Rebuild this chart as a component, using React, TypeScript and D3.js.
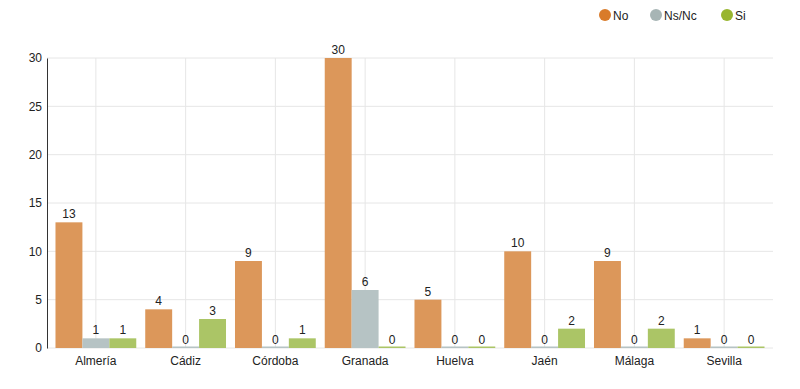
import React, { useEffect, useRef } from "react";
import * as d3 from "d3";

const provinces = ["Almería", "Cádiz", "Córdoba", "Granada", "Huelva", "Jaén", "Málaga", "Sevilla"];
const seriesNames = ["No", "Ns/Nc", "Si"];
const noValues = [13, 4, 9, 30, 5, 10, 9, 1];
const nsncValues = [1, 0, 0, 6, 0, 0, 0, 0];
const siValues = [1, 3, 1, 0, 0, 2, 2, 0];
const yTicks = [0, 5, 10, 15, 20, 25, 30];

const legendColors = ["#d97b2a", "#a7b5b5", "#98b52f"];
const barColors = ["#dc975a", "#b6c3c4", "#abc566"];

export default function App() {
  const ref = useRef<SVGSVGElement>(null);

  useEffect(() => {
    const width = 800, height = 389;
    const margin = { top: 58, right: 27, bottom: 41, left: 47 };
    const innerW = width - margin.left - margin.right;
    const innerH = height - margin.top - margin.bottom;
    const svg = d3.select(ref.current);
    svg.selectAll("*").remove();
    svg.style("font-family", "'Liberation Sans', Arial, sans-serif");

    const values = [noValues, nsncValues, siValues];
    const data = provinces.map((p, i) => ({ p, vals: values.map(v => v[i]) }));

    const x = d3.scaleBand().domain(provinces).range([4, innerW - 4]).paddingInner(0.1).paddingOuter(0.05);
    const x1 = d3.scaleBand().domain(seriesNames).range([0, x.bandwidth()]);
    const y = d3.scaleLinear().domain([0, 30]).range([innerH, 0]);

    const chart = svg.append("g").attr("transform", `translate(${margin.left},${margin.top})`);

    // grid
    chart.selectAll(".hgrid").data(yTicks).join("line").attr("class", "hgrid")
      .attr("x1", 0).attr("x2", innerW).attr("y1", d => y(d)).attr("y2", d => y(d))
      .attr("stroke", "#e6e6e6");
    chart.selectAll(".vgrid").data(provinces).join("line").attr("class", "vgrid")
      .attr("x1", d => x(d)! + x.bandwidth() / 2).attr("x2", d => x(d)! + x.bandwidth() / 2)
      .attr("y1", 0).attr("y2", innerH).attr("stroke", "#e6e6e6");

    // y axis
    const yAxis = chart.append("g").call(d3.axisLeft(y).tickValues(yTicks).tickSize(0).tickPadding(5));
    yAxis.select(".domain").attr("stroke", "#333");
    yAxis.selectAll("text").attr("font-size", 12).attr("fill", "#222").attr("font-family", "'Liberation Sans', Arial, sans-serif");

    // x axis
    const xAxis = chart.append("g").attr("transform", `translate(0,${innerH})`)
      .call(d3.axisBottom(x).tickSize(0).tickPadding(8));
    xAxis.select(".domain").remove();
    xAxis.selectAll("text").attr("font-size", 12).attr("fill", "#222").attr("font-family", "'Liberation Sans', Arial, sans-serif");

    const groups = chart.selectAll(".grp").data(data).join("g").attr("class", "grp")
      .attr("transform", d => `translate(${x(d.p)},0)`);

    groups.selectAll("rect").data(d => d.vals.map((v, k) => ({ v, k })))
      .join("rect")
      .attr("x", d => x1(seriesNames[d.k])!)
      .attr("width", x1.bandwidth())
      .attr("y", d => d.v === 0 ? innerH - 1.5 : y(d.v))
      .attr("height", d => d.v === 0 ? 1.5 : innerH - y(d.v))
      .attr("fill", d => barColors[d.k]);

    groups.selectAll("text").data(d => d.vals.map((v, k) => ({ v, k })))
      .join("text")
      .attr("x", d => x1(seriesNames[d.k])! + x1.bandwidth() / 2)
      .attr("y", d => y(d.v) - 4)
      .attr("text-anchor", "middle")
      .attr("font-size", 12)
      .attr("fill", "#222")
      .text(d => d.v);

    // legend
    const legendX = [605, 656, 727];
    const legend = svg.selectAll(".leg").data(seriesNames).join("g").attr("class", "leg")
      .attr("transform", (d, i) => `translate(${legendX[i]},15)`);
    legend.append("circle").attr("r", 6).attr("fill", (d, i) => legendColors[i]);
    legend.append("text").attr("x", 8).attr("y", 4.5).attr("font-size", 12).attr("fill", "#222").text(d => d);
  }, []);

  return (
    <svg ref={ref} width={800} height={389} style={{ position: "absolute", left: 0, top: 0 }} />
  );
}
